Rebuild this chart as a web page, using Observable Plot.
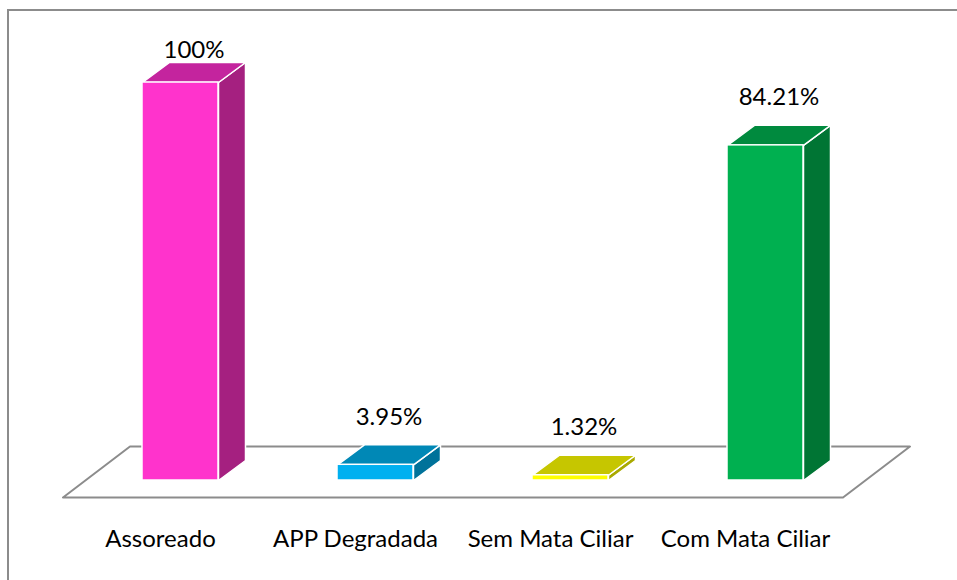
<!DOCTYPE html>
<html>
<head>
<meta charset="utf-8">
<script src="https://cdn.jsdelivr.net/npm/d3@7"></script>
<script src="https://cdn.jsdelivr.net/npm/@observablehq/plot@0.6"></script>
<style>
  html, body { margin: 0; padding: 0; background: #fff; }
  #wrap { position: relative; width: 957px; height: 580px; overflow: hidden; }
  #frame { position: absolute; left: 7px; top: 9px; width: 1000px; height: 600px;
           border-left: 2.5px solid #8c8c8c; border-top: 2.5px solid #8c8c8c; pointer-events: none; }
  #chart { position: absolute; left: 0; top: 0; }
  #chart text { font-weight: 400; }
</style>
</head>
<body>
<div id="wrap"><div id="chart"></div><div id="frame"></div></div>
<script>
// ---- data ----
const categories = ["Assoreado", "APP Degradada", "Sem Mata Ciliar", "Com Mata Ciliar"];
const values = [100, 3.95, 1.32, 84.21];
const valueLabels = ["100%", "3.95%", "1.32%", "84.21%"];

// ---- palette ----
const frontColors = ["#FF33CC", "#00B0F0", "#FFFF00", "#00B050"];
const topColors   = ["#C4249E", "#0088B6", "#C6C600", "#008A3E"];
const sideColors  = ["#A52080", "#00729A", "#A9A900", "#007534"];

// ---- geometry (style) ----
const W = 957, H = 580;
const mTop = 82, mBottom = 100, mLeft = 180, mRight = 192;
const pxPerX = (W - mLeft - mRight) / (categories.length - 1);
const pxPerY = (H - mTop - mBottom) / 100;
const HW = 38 / pxPerX;          // half bar width
const DX = 27 / pxPerX, DY = 20 / pxPerY;   // bar depth
const FLOOR_SHIFT = 20 / pxPerX;
const FDX = 67 / pxPerX, FDY = 51 / pxPerY;  // floor depth
const floorFront = -17 / pxPerY;

const idx = categories.map((_, i) => i);

// polygons for top and side faces
const faces = [];
idx.forEach(i => {
  const x1 = i - HW, x2 = i + HW, v = values[i];
  const side = [[x2, 0], [x2 + DX, DY], [x2 + DX, v + DY], [x2, v], [x2, 0]];
  const top = [[x1, v], [x2, v], [x2 + DX, v + DY], [x1 + DX, v + DY], [x1, v]];
  side.forEach(([x, y]) => faces.push({key: "s" + i, x, y, color: sideColors[i]}));
  top.forEach(([x, y]) => faces.push({key: "t" + i, x, y, color: topColors[i]}));
});

const fx0 = -0.5 - FLOOR_SHIFT, fx1 = categories.length - 0.5 - FLOOR_SHIFT;
const floor = [
  {x: fx0, y: floorFront}, {x: fx1, y: floorFront},
  {x: fx1 + FDX, y: floorFront + FDY}, {x: fx0 + FDX, y: floorFront + FDY},
  {x: fx0, y: floorFront}
];

const maxV = d3.max(values);

const chart = Plot.plot({
  width: W, height: H,
  marginTop: mTop, marginBottom: mBottom, marginLeft: mLeft, marginRight: mRight,
  x: {domain: [0, categories.length - 1], axis: null},
  y: {domain: [0, 100], axis: null},
  color: {type: "identity"},
  style: {fontFamily: "Lato, 'Open Sans', sans-serif", fontSize: "24px", color: "#000", background: "transparent"},
  marks: [
    Plot.line(floor, {x: "x", y: "y", stroke: "#8c8c8c", strokeWidth: 2, fill: "white", curve: "linear"}),
    Plot.line(faces, {x: "x", y: "y", z: "key", fill: "color", stroke: "white", strokeWidth: 1.5, curve: "linear"}),
    Plot.rect(idx, {x1: i => i - HW, x2: i => i + HW, y1: 0, y2: i => values[i],
      fill: i => frontColors[i], stroke: "white", strokeWidth: 1.5}),
    Plot.text(idx.filter(i => values[i] < maxV), {x: i => i + DX / 2, y: i => values[i] + DY,
      text: i => valueLabels[i], dy: -20, lineAnchor: "bottom", fill: "#000"}),
    Plot.text(idx.filter(i => values[i] === maxV), {x: i => i + DX / 2, y: i => values[i] + DY,
      text: i => valueLabels[i], dy: -5, lineAnchor: "bottom", fill: "#000"}),
    Plot.text(idx, {x: i => i, frameAnchor: "bottom", text: i => categories[i],
      dx: -20, dy: 66, lineAnchor: "bottom", fill: "#000"})
  ]
});
document.getElementById("chart").appendChild(chart);
</script>
</body>
</html>
